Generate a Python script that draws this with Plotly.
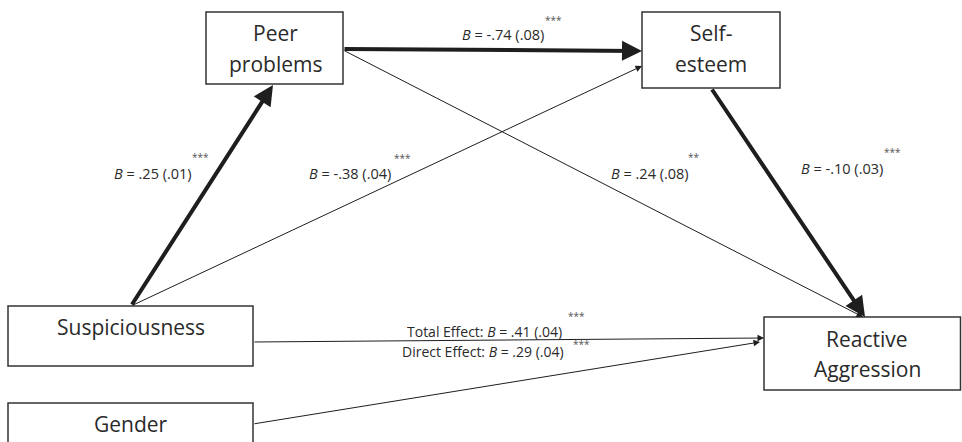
import plotly.graph_objects as go

# ---------------- data ----------------
node_names = ["Peer problems", "Self-esteem", "Suspiciousness", "Gender", "Reactive Aggression"]
node_lines = [["Peer", "problems"], ["Self-", "esteem"], ["Suspiciousness"], ["Gender"], ["Reactive", "Aggression"]]

path_from = ["Suspiciousness", "Suspiciousness", "Peer problems", "Peer problems", "Self-esteem", "Suspiciousness", "Gender"]
path_to = ["Peer problems", "Self-esteem", "Self-esteem", "Reactive Aggression", "Reactive Aggression", "Reactive Aggression", "Reactive Aggression"]
path_strong = [True, False, True, False, True, False, False]

coef_prefix = ["", "", "", "", "", "Total Effect: ", "Direct Effect: "]
coef_B = [0.25, -0.38, -0.74, 0.24, -0.10, 0.41, 0.29]
coef_SE = [0.01, 0.04, 0.08, 0.08, 0.03, 0.04, 0.04]
coef_sig = ["***", "***", "***", "**", "***", "***", "***"]

# ---------------- layout geometry (pixels) ----------------
W, H = 962, 442
box = {
    "Peer problems": (206, 12, 343, 84),
    "Self-esteem": (642, 12, 780, 88),
    "Suspiciousness": (8, 306, 253, 366),
    "Gender": (8, 403, 253, 480),
    "Reactive Aggression": (764, 317, 960.5, 390),
}
text_pos = {
    "Peer problems": (275, [33, 64]),
    "Self-esteem": (711, [33, 64]),
    "Suspiciousness": (131, [327]),
    "Gender": (131, [424]),
    "Reactive Aggression": (867, [339, 369]),
}
# tail / tip anchor points per path
path_tail = [(131, 306), (131, 306), (343, 49), (343, 50), (711, 88), (253, 342), (253, 424)]
path_tip = [(273, 85), (642, 66), (642, 51), (863, 317), (865, 317), (764, 338), (760, 342)]
# label anchor (left x, mid y) and star anchor
label_pos = [(112, 173), (307, 173), (460, 34), (609, 173), (799, 168), (405, 331), (400, 351)]
star_pos = [(200, 157), (402, 158), (553, 20), (694, 157), (892, 152), (576, 316), (581, 344)]


def fmt(v):
    s = f"{v:.2f}"
    return s.replace("0.", ".", 1)


fig = go.Figure()
shapes = []
annotations = []

INK = "#1e1e1e"
TXT = "#2a2a2a"
BOX_FONT = dict(family="Open Sans, Noto Sans, sans-serif", size=21, color=TXT)
LAB_FONT = dict(family="Open Sans, Noto Sans, sans-serif", size=14.5, color=TXT)
EFF_FONT = dict(family="Open Sans, Noto Sans, sans-serif", size=14, color=TXT)
STAR_FONT = dict(family="Open Sans, Noto Sans, sans-serif", size=10, color="#555555")

for name, lines in zip(node_names, node_lines):
    x0, y0, x1, y1 = box[name]
    shapes.append(dict(type="rect", xref="x", yref="y", x0=x0, y0=y0, x1=x1, y1=y1,
                       line=dict(color="#333333", width=1.5), fillcolor="white", layer="below"))
    tx, tys = text_pos[name]
    for ln, ty in zip(lines, tys):
        annotations.append(dict(x=tx, y=ty, xref="x", yref="y", text=ln, showarrow=False,
                                font=BOX_FONT, xanchor="center", yanchor="middle"))

for i in range(len(path_from)):
    (ax, ay), (tx, ty) = path_tail[i], path_tip[i]
    strong = path_strong[i]
    annotations.append(dict(
        x=tx, y=ty, ax=ax, ay=ay, xref="x", yref="y", axref="x", ayref="y",
        text="", showarrow=True, arrowhead=2,
        arrowwidth=4 if strong else 1,
        arrowsize=1.0 if strong else 1.3,
        arrowcolor=INK, standoff=0, startstandoff=0,
    ))

for i in range(len(coef_B)):
    lx, ly = label_pos[i]
    txt = f"{coef_prefix[i]}<i>B</i> = {fmt(coef_B[i])} ({fmt(coef_SE[i])})"
    annotations.append(dict(x=lx, y=ly, xref="x", yref="y", text=txt, showarrow=False,
                            font=EFF_FONT if coef_prefix[i] else LAB_FONT,
                            xanchor="left", yanchor="middle"))
    sx, sy = star_pos[i]
    annotations.append(dict(x=sx, y=sy, xref="x", yref="y", text=coef_sig[i], showarrow=False,
                            font=STAR_FONT, xanchor="center", yanchor="middle"))

fig.update_layout(
    width=W, height=H,
    margin=dict(l=0, r=0, t=0, b=0),
    paper_bgcolor="white", plot_bgcolor="white",
    xaxis=dict(range=[0, W], visible=False, fixedrange=True),
    yaxis=dict(range=[H, 0], visible=False, fixedrange=True),
    shapes=shapes, annotations=annotations, showlegend=False,
)

fig.write_html("out.html", config={"displayModeBar": False, "staticPlot": True},
               post_script="document.body.style.margin='0';document.body.style.overflow='hidden';")
